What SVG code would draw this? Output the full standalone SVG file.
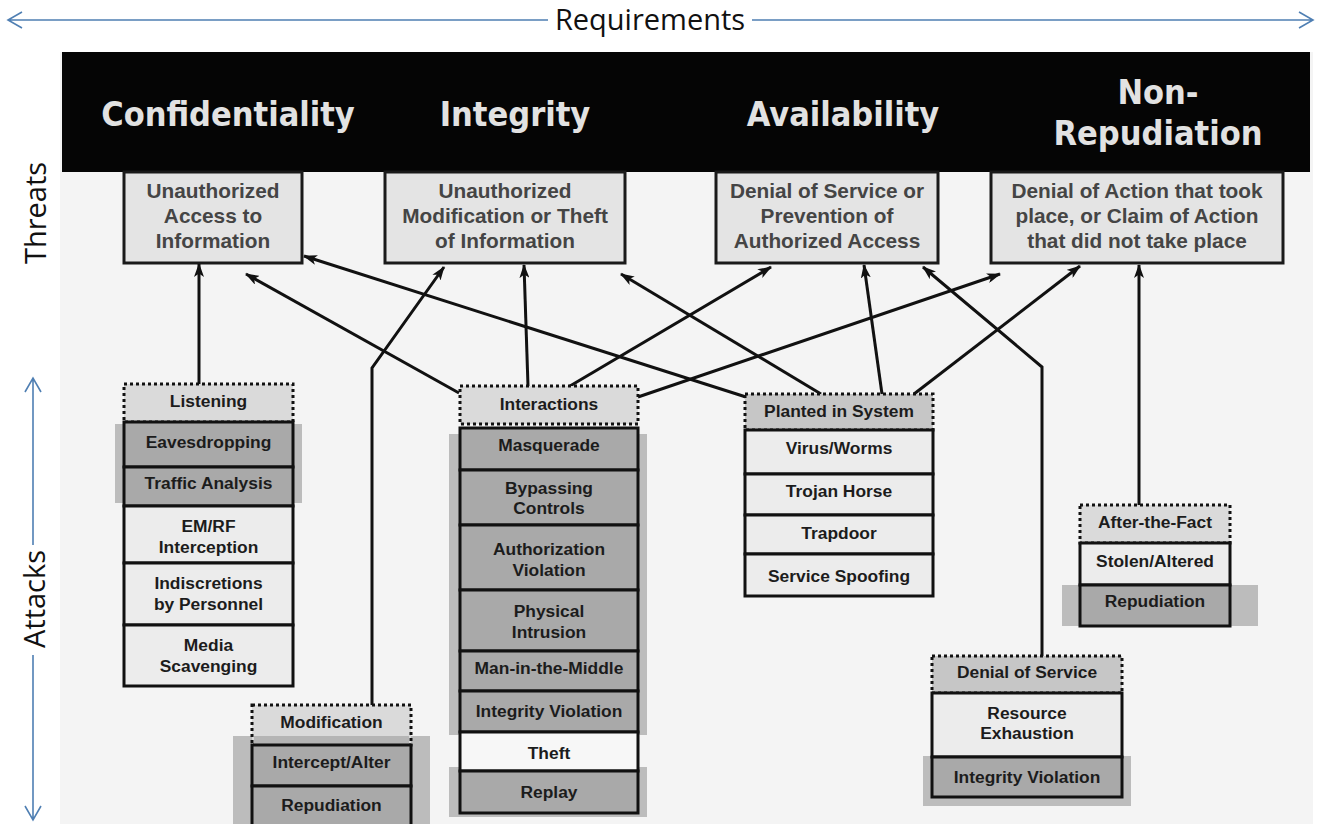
<svg xmlns="http://www.w3.org/2000/svg" width="1322" height="824" viewBox="0 0 1322 824">
<defs>
<marker id="ah" markerUnits="userSpaceOnUse" viewBox="0 0 14 10" refX="13" refY="5" markerWidth="14" markerHeight="10" orient="auto">
<path d="M0,0 L14,5 L0,10 L3.5,5 z" fill="#111"/>
</marker>
</defs>
<style>
.blue{stroke:#4f7fb3;stroke-width:1.6;fill:none}
.side{font-family:"Open Sans","Liberation Sans",sans-serif;font-size:29px;fill:#111}
.hdr{font-family:"DejaVu Sans Condensed","DejaVu Sans",sans-serif;font-weight:bold;font-stretch:condensed;font-size:34px;fill:#e2e2e2;text-anchor:middle}
.thr rect{fill:#e4e4e4;stroke:#1a1a1a;stroke-width:3}
.thr text{font-family:"Liberation Sans",Arial,sans-serif;font-weight:bold;font-size:20.8px;fill:#454545;text-anchor:middle}
.cell{stroke:#111;stroke-width:3}
.dk{fill:#a9a9a9}
.lt{fill:#ececec}
.wh{fill:#f7f7f7}
.sh{fill:#bcbcbc}
.hd{stroke:#111;stroke-width:3;stroke-dasharray:3 3}
.hl{fill:#dadada}
.hm{fill:#c6c6c6}
.t{font-family:"Liberation Sans",Arial,sans-serif;font-weight:bold;font-size:17.4px;fill:#1c1c1c;text-anchor:middle}
.conn path{stroke:#111;stroke-width:3;fill:none}
</style>
<rect x="0" y="0" width="1322" height="824" fill="#ffffff"/>
<rect x="60" y="52" width="1253" height="772" fill="#f4f4f4"/>

<g id="axis-requirements">
<path class="blue" d="M8,20 H548 M752,20 H1313 M22,12 L8,20 L22,28 M1299,12 L1313,20 L1299,28"/>
<text x="650" y="30" class="side" text-anchor="middle" font-size="28">Requirements</text>
</g>
<g id="axis-threats">
<text class="side" transform="translate(46,213) rotate(-90)" text-anchor="middle">Threats</text>
</g>
<g id="axis-attacks">
<path class="blue" d="M33,378 V545 M33,655 V820 M25,392 L33,378 L41,392 M25,806 L33,820 L41,806"/>
<text class="side" transform="translate(45,599) rotate(-90)" text-anchor="middle">Attacks</text>
</g>

<g id="requirements-bar">
<rect x="62" y="52" width="1248" height="120" fill="#050505"/>
<text class="hdr" x="228" y="126">Confidentiality</text>
<text class="hdr" x="515" y="126">Integrity</text>
<text class="hdr" x="843" y="126">Availability</text>
<text class="hdr" x="1158" y="104">Non-</text>
<text class="hdr" x="1158" y="145">Repudiation</text>
</g>

<g id="threat-access" class="thr">
<rect x="124" y="172" width="178" height="91"/>
<text x="213" y="198">Unauthorized</text>
<text x="213" y="223">Access to</text>
<text x="213" y="248">Information</text>
</g>
<g id="threat-modification" class="thr">
<rect x="385" y="172" width="240" height="91"/>
<text x="505" y="198">Unauthorized</text>
<text x="505" y="223">Modification or Theft</text>
<text x="505" y="248">of Information</text>
</g>
<g id="threat-dos" class="thr">
<rect x="716" y="172" width="222" height="91"/>
<text x="827" y="198">Denial of Service or</text>
<text x="827" y="223">Prevention of</text>
<text x="827" y="248">Authorized Access</text>
</g>
<g id="threat-denial" class="thr">
<rect x="991" y="172" width="292" height="91"/>
<text x="1137" y="198">Denial of Action that took</text>
<text x="1137" y="223">place, or Claim of Action</text>
<text x="1137" y="248">that did not take place</text>
</g>

<g id="connectors" class="conn">
<path d="M199,384 V264" marker-end="url(#ah)"/>
<path d="M459,393 L246,274" marker-end="url(#ah)"/>
<path d="M746,397 L304,256" marker-end="url(#ah)"/>
<path d="M372,705 V368 L444,267" marker-end="url(#ah)"/>
<path d="M528,386 L524,265" marker-end="url(#ah)"/>
<path d="M570,386 L771,267" marker-end="url(#ah)"/>
<path d="M638,397 L1000,274" marker-end="url(#ah)"/>
<path d="M821,394 L621,274" marker-end="url(#ah)"/>
<path d="M882,394 L864,265" marker-end="url(#ah)"/>
<path d="M914,394 L1080,266" marker-end="url(#ah)"/>
<path d="M1042,656 V367 L923,267" marker-end="url(#ah)"/>
<path d="M1139,505 V265" marker-end="url(#ah)"/>
</g>

<g id="attack-listening">
<rect class="sh" x="115" y="424" width="187" height="79"/>
<rect class="hd hl" x="124" y="384" width="169" height="38"/>
<text class="t" x="208.5" y="407">Listening</text>
<rect class="cell dk" x="124" y="422" width="169" height="45"/>
<text class="t" x="208.5" y="448">Eavesdropping</text>
<rect class="cell dk" x="124" y="467" width="169" height="39"/>
<text class="t" x="208.5" y="489">Traffic Analysis</text>
<rect class="cell lt" x="124" y="506" width="169" height="57"/>
<text class="t" x="208.5" y="532">EM/RF</text>
<text class="t" x="208.5" y="553">Interception</text>
<rect class="cell lt" x="124" y="563" width="169" height="62"/>
<text class="t" x="208.5" y="589">Indiscretions</text>
<text class="t" x="208.5" y="610">by Personnel</text>
<rect class="cell lt" x="124" y="625" width="169" height="61"/>
<text class="t" x="208.5" y="651">Media</text>
<text class="t" x="208.5" y="672">Scavenging</text>
</g>

<g id="attack-interactions">
<rect class="sh" x="449" y="434" width="198" height="301"/>
<rect class="sh" x="449" y="767" width="198" height="50"/>
<rect class="hd hl" x="460" y="386" width="178" height="38"/>
<text class="t" x="549" y="410">Interactions</text>
<rect class="cell dk" x="460" y="428" width="178" height="42"/>
<text class="t" x="549" y="451">Masquerade</text>
<rect class="cell dk" x="460" y="470" width="178" height="55"/>
<text class="t" x="549" y="494">Bypassing</text>
<text class="t" x="549" y="514">Controls</text>
<rect class="cell dk" x="460" y="525" width="178" height="65"/>
<text class="t" x="549" y="555">Authorization</text>
<text class="t" x="549" y="576">Violation</text>
<rect class="cell dk" x="460" y="590" width="178" height="61"/>
<text class="t" x="549" y="617">Physical</text>
<text class="t" x="549" y="638">Intrusion</text>
<rect class="cell dk" x="460" y="651" width="178" height="40"/>
<text class="t" x="549" y="674">Man-in-the-Middle</text>
<rect class="cell dk" x="460" y="691" width="178" height="41"/>
<text class="t" x="549" y="717">Integrity Violation</text>
<rect class="cell wh" x="460" y="732" width="178" height="39"/>
<text class="t" x="549" y="759">Theft</text>
<rect class="cell dk" x="460" y="771" width="178" height="42"/>
<text class="t" x="549" y="798">Replay</text>
</g>

<g id="attack-planted">
<rect class="hd hm" x="745" y="394" width="188" height="36"/>
<text class="t" x="839" y="417">Planted in System</text>
<rect class="cell lt" x="745" y="430" width="188" height="44"/>
<text class="t" x="839" y="454">Virus/Worms</text>
<rect class="cell lt" x="745" y="474" width="188" height="41"/>
<text class="t" x="839" y="497">Trojan Horse</text>
<rect class="cell lt" x="745" y="515" width="188" height="39"/>
<text class="t" x="839" y="539">Trapdoor</text>
<rect class="cell lt" x="745" y="554" width="188" height="42"/>
<text class="t" x="839" y="582">Service Spoofing</text>
</g>

<g id="attack-modification">
<rect class="sh" x="233" y="736" width="197" height="88"/>
<rect class="hd hl" x="252" y="705" width="159" height="40"/>
<rect x="254" y="736" width="155" height="8" fill="#b5b5b5"/>
<text class="t" x="331.5" y="728">Modification</text>
<rect class="cell dk" x="252" y="745" width="159" height="41"/>
<text class="t" x="331.5" y="768">Intercept/Alter</text>
<rect class="cell dk" x="252" y="786" width="159" height="44"/>
<text class="t" x="331.5" y="811">Repudiation</text>
</g>

<g id="attack-afterfact">
<rect class="sh" x="1062" y="585" width="196" height="41"/>
<rect class="hd hl" x="1080" y="505" width="150" height="38"/>
<text class="t" x="1155" y="528">After-the-Fact</text>
<rect class="cell lt" x="1080" y="543" width="150" height="42"/>
<text class="t" x="1155" y="567">Stolen/Altered</text>
<rect class="cell dk" x="1080" y="585" width="150" height="41"/>
<text class="t" x="1155" y="607">Repudiation</text>
</g>

<g id="attack-dos">
<rect class="sh" x="923" y="756" width="208" height="50"/>
<rect class="hd hm" x="932" y="656" width="190" height="37"/>
<text class="t" x="1027" y="678">Denial of Service</text>
<rect class="cell lt" x="932" y="693" width="190" height="64"/>
<text class="t" x="1027" y="719">Resource</text>
<text class="t" x="1027" y="739">Exhaustion</text>
<rect class="cell dk" x="932" y="757" width="190" height="40"/>
<text class="t" x="1027" y="783">Integrity Violation</text>
</g>
</svg>
